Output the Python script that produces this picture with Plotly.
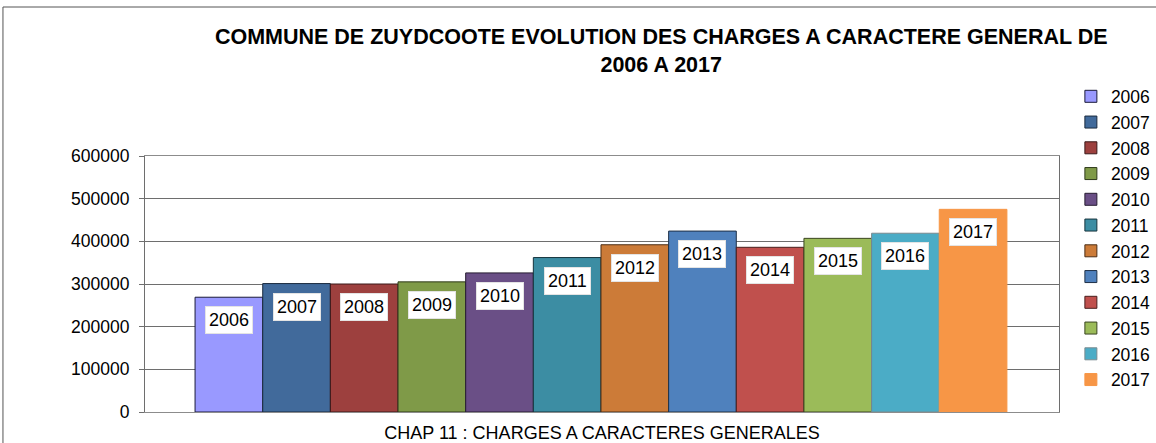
import plotly.graph_objects as go

years = ["2006", "2007", "2008", "2009", "2010", "2011",
         "2012", "2013", "2014", "2015", "2016", "2017"]
values = [269000, 301000, 300000, 305000, 326000, 362000,
          392000, 424000, 386000, 407000, 419000, 475000]
fill_colors = ["#9999FF", "#416A9B", "#9D403E", "#7F9A48", "#6A4F86", "#3C8DA3",
               "#CC7B38", "#4F81BD", "#C0504D", "#9BBB59", "#4BACC6", "#F79646"]
edge_colors = ["#1a1a3a", "#1a2a3e", "#3a1818", "#2f3a1b", "#271d32", "#16343d",
               "#4c2e15", "#1e3047", "#481e1d", "#3a4621", "#7a8a8f", "#F79646"]
y_ticks = [0, 100000, 200000, 300000, 400000, 500000, 600000]
title_text = "COMMUNE DE ZUYDCOOTE EVOLUTION DES CHARGES A CARACTERE GENERAL DE<br>2006 A 2017"
category_label = "CHAP 11 : CHARGES A CARACTERES GENERALES"

FONT = "Liberation Sans, Arial"

fig = go.Figure()
for i, (yr, v) in enumerate(zip(years, values)):
    fig.add_trace(go.Bar(
        x=[i], y=[v], name=yr, width=1,
        marker=dict(color=fill_colors[i], line=dict(color=edge_colors[i], width=1)),
        hoverinfo="name+y",
    ))
    fig.add_annotation(
        x=i, y=v, xref="x", yref="y", text=yr, showarrow=False,
        yanchor="top", yshift=-9,
        font=dict(family=FONT, size=18, color="#000"),
        bgcolor="#ffffff", bordercolor="#e4e4e4", borderwidth=1, borderpad=3,
    )

fig.update_layout(
    width=1156, height=443,
    margin=dict(l=145, r=97, t=156, b=31, autoexpand=False),
    paper_bgcolor="#ffffff", plot_bgcolor="#ffffff",
    barmode="overlay",
    font=dict(family=FONT, color="#000"),
    title=dict(text=title_text, x=0.572, xanchor="center", y=0.9, yanchor="top",
               font=dict(family=FONT, size=21.5, color="#000", weight="bold")),
    legend=dict(x=1.013, xanchor="left", y=1.303, yanchor="top",
                font=dict(size=17.5, family=FONT),
                itemwidth=30, tracegroupgap=0, bgcolor="rgba(0,0,0,0)",
                maxheight=420),
    showlegend=True,
    shapes=[
        dict(type="line", xref="paper", yref="paper", x0=-0.1554, x1=1.2, y0=1.582, y1=1.582,
             line=dict(color="#555", width=1)),
        dict(type="line", xref="paper", yref="paper", x0=-0.1554, x1=-0.1554, y0=-0.5, y1=1.582,
             line=dict(color="#555", width=1)),
    ],
)
fig.update_xaxes(range=[-1.24, 12.27], showticklabels=False, showgrid=False, zeroline=False,
                 showline=True, linecolor="#8c8c8c", linewidth=1, mirror=True, ticks="",
                 title=dict(text=category_label, standoff=14,
                            font=dict(size=18, family=FONT, color="#000")))
fig.update_yaxes(range=[0, 600000], tickvals=y_ticks, ticktext=[str(t) for t in y_ticks],
                 showgrid=True, gridcolor="#6e6e6e", gridwidth=1, zeroline=False,
                 showline=True, linecolor="#6e6e6e", linewidth=1, mirror=True,
                 ticks="outside", ticklen=5, tickcolor="#6e6e6e", ticklabelstandoff=6,
                 tickfont=dict(size=17.5, family=FONT, color="#000"))

fig.write_html("out.html", post_script="document.body.style.margin='0';",
               config={"displayModeBar": False})
